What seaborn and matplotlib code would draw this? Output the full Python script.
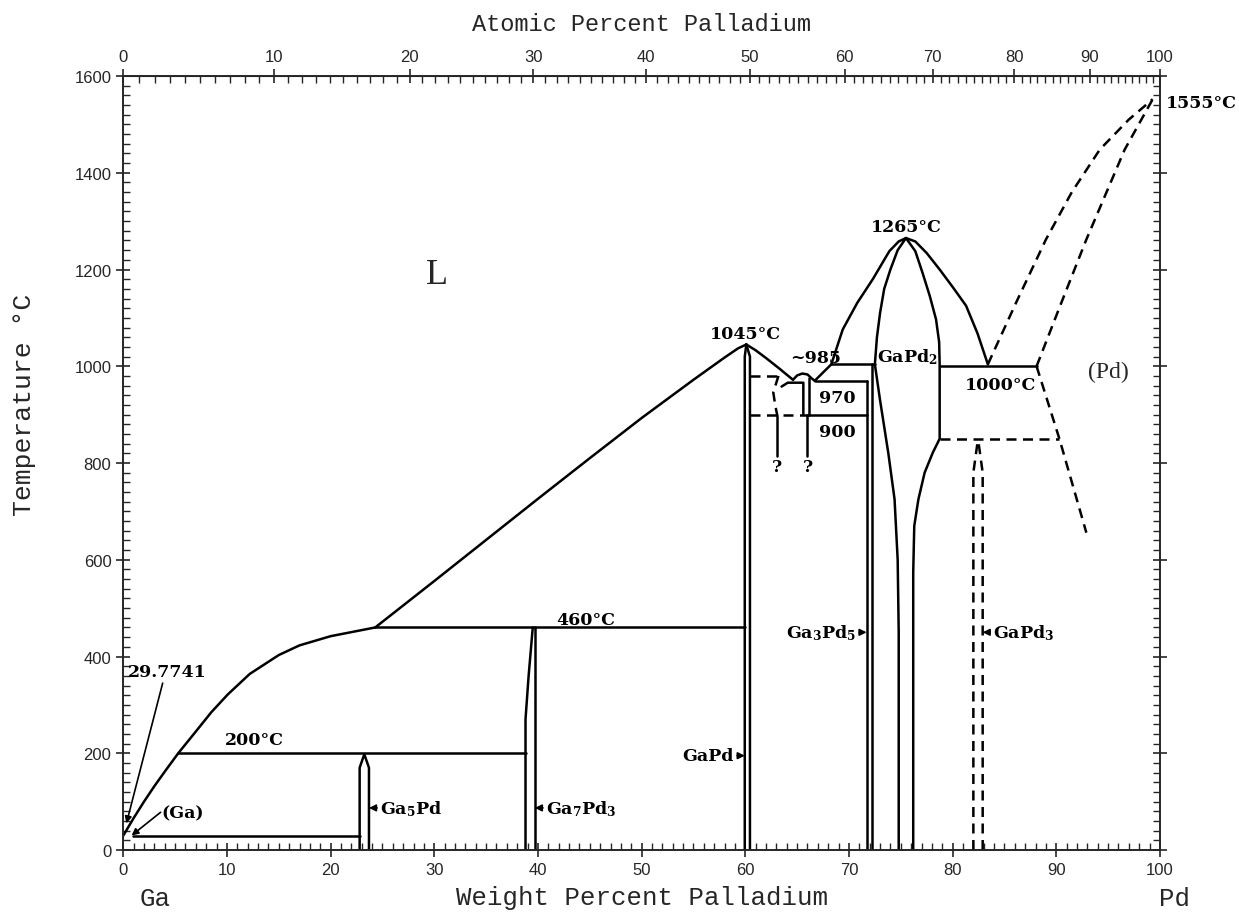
import numpy as np
import pandas as pd
import matplotlib
matplotlib.use("Agg")
import matplotlib.pyplot as plt
from matplotlib.ticker import MultipleLocator, FixedLocator
import seaborn as sns

# atomic masses for the top (atomic %) scale
GA_MASS = 69.723
PD_MASS = 106.42

# ---- phase boundaries: (wt% Pd, temperature C) ----
liq_low = [(0, 29.8), (1.0, 66), (2.0, 100), (3.0, 132), (4.0, 162), (5.3, 200), (7.0, 245),
           (8.5, 285), (10.1, 322), (12.2, 364), (15.0, 403), (17.0, 423), (20.0, 442), (24.3, 460)]
liq_gapd_left = [(24.3, 460), (30, 556), (35, 641), (40, 726), (45, 810), (50, 893), (55, 972),
                 (58, 1018), (59.3, 1037), (60.1, 1045)]
liq_gapd_right = [(60.1, 1045), (61, 1033), (62, 1017), (63.3, 995), (64.6, 972)]
dome_985 = [(64.6, 972), (65.0, 981), (65.5, 985), (66.0, 983), (66.4, 975), (66.7, 970)]
liq_gapd2_left = [(66.7, 970), (68.3, 1004), (69.4, 1076), (70.8, 1131), (72.3, 1180),
                  (73.9, 1238), (74.8, 1258), (75.5, 1265)]
liq_gapd2_right = [(75.5, 1265), (76.4, 1258), (77.5, 1234), (78.75, 1200), (80.0, 1164),
                   (81.3, 1125), (82.4, 1068), (83.4, 1004)]
gapd2_left = [(75.5, 1265), (74.7, 1240), (74.0, 1200), (73.4, 1160), (73.0, 1110), (72.7, 1060),
              (72.5, 1004), (73.0, 930), (73.8, 820), (74.4, 725), (74.7, 600), (74.8, 450), (74.8, 0)]
gapd2_right = [(75.5, 1265), (76.4, 1238), (77.1, 1193), (77.8, 1145), (78.4, 1097), (78.7, 1050),
               (78.75, 1004), (78.75, 850), (78.1, 822), (77.3, 780), (76.7, 725), (76.3, 670),
               (76.2, 574), (76.2, 0)]

iso_30 = [(0.9, 29.8), (22.8, 29.8)]
iso_200 = [(5.3, 200), (38.8, 200)]
iso_460 = [(24.3, 460), (59.95, 460)]
iso_1004 = [(68.3, 1004), (72.5, 1004)]
iso_970 = [(66.7, 970), (71.7, 970)]
iso_900 = [(66.1, 900), (71.7, 900)]
iso_1000 = [(78.75, 1000), (88.1, 1000)]

ga5pd = [(22.8, 0), (22.8, 170), (23.25, 198), (23.7, 170), (23.7, 0)]
ga7pd3_left = [(38.8, 0), (38.8, 270), (39.1, 360), (39.5, 460)]
ga7pd3_right = [(39.7, 0), (39.7, 460)]
gapd_left = [(59.95, 0), (59.95, 1020), (60.1, 1045)]
gapd_right = [(60.45, 0), (60.45, 1020), (60.1, 1045)]
ga3pd5_left = [(71.7, 0), (71.7, 970)]
ga3pd5_right = [(72.2, 0), (72.2, 1004)]
small_left = [(63.5, 958), (64.1, 966), (65.6, 966), (65.6, 900)]
small_right = [(66.1, 900), (66.1, 975)]
query_1 = [(63.1, 897), (63.1, 815)]
query_2 = [(66.0, 900), (66.0, 815)]

# dashed (uncertain) boundaries
iso_900_dash = [(60.45, 900), (66.1, 900)]
iso_980_dash = [(60.45, 980), (63.2, 980)]
curve_dash = [(63.2, 980), (62.7, 946), (62.9, 918), (63.1, 897)]
pd_liquidus = [(83.4, 1004), (86.2, 1135), (89.0, 1262), (91.5, 1360), (94.2, 1448),
               (97.0, 1510), (99.3, 1552)]
pd_solidus = [(88.1, 1000), (90.5, 1132), (92.9, 1262), (96.6, 1448), (99.3, 1552)]
pd_solvus = [(88.1, 1000), (90.3, 850), (92.9, 656)]
iso_850_dash = [(78.75, 850), (90.3, 850)]
gapd3_left = [(82.0, 0), (82.0, 780), (82.45, 850)]
gapd3_right = [(82.9, 0), (82.9, 780), (82.45, 850)]

solid_segments = [liq_low, liq_gapd_left, liq_gapd_right, dome_985, liq_gapd2_left,
                  liq_gapd2_right, gapd2_left, gapd2_right, iso_30, iso_200, iso_460,
                  iso_1004, iso_970, iso_900, iso_1000, ga5pd, ga7pd3_left, ga7pd3_right,
                  gapd_left, gapd_right, ga3pd5_left, ga3pd5_right, small_left, small_right,
                  query_1, query_2]
dashed_segments = [iso_900_dash, iso_980_dash, curve_dash, pd_liquidus, pd_solidus,
                   pd_solvus, iso_850_dash, gapd3_left, gapd3_right]


def to_frame(segments):
    rows = []
    for i, seg in enumerate(segments):
        for w, t in seg:
            rows.append({"wt": w, "T": t, "seg": i})
    return pd.DataFrame(rows)


def wt_to_at(w):
    w = np.asarray(w, dtype=float)
    with np.errstate(divide="ignore", invalid="ignore"):
        return (w / PD_MASS) / (w / PD_MASS + (100 - w) / GA_MASS) * 100


def at_to_wt(a):
    a = np.asarray(a, dtype=float)
    with np.errstate(divide="ignore", invalid="ignore"):
        return a * PD_MASS / (a * PD_MASS + (100 - a) * GA_MASS) * 100


sns.set_style("ticks")
plt.rcParams["mathtext.default"] = "regular"

fig = plt.figure(figsize=(12.39, 9.2), dpi=100)
ax = fig.add_axes([0.0995, 0.075, 0.8367, 0.8413])

sns.lineplot(data=to_frame(solid_segments), x="wt", y="T", units="seg", estimator=None,
             sort=False, color="black", linewidth=1.8, ax=ax)
sns.lineplot(data=to_frame(dashed_segments), x="wt", y="T", units="seg", estimator=None,
             sort=False, color="black", linewidth=1.8, linestyle=(0, (4, 2.6)), ax=ax)

ax.set_xlim(0, 100)
ax.set_ylim(0, 1600)
for s in ax.spines.values():
    s.set_linewidth(1.4)
    s.set_visible(True)

ax.xaxis.set_major_locator(MultipleLocator(10))
ax.xaxis.set_minor_locator(MultipleLocator(1))
ax.yaxis.set_major_locator(MultipleLocator(200))
ax.yaxis.set_minor_locator(MultipleLocator(20))
ax.tick_params(which="major", direction="inout", length=10, width=1.2,
               right=True, top=False, labelsize=12)
ax.tick_params(which="minor", direction="in", length=5, width=1.0, right=True, top=False)
for lab in ax.get_xticklabels() + ax.get_yticklabels():
    lab.set_family("Liberation Sans")

mono = "Liberation Mono"
ax.set_xlabel("Weight Percent Palladium", family=mono, fontsize=18.5, labelpad=6)
ax.set_ylabel("Temperature °C", family=mono, fontsize=19)
ax.yaxis.set_label_coords(-0.084, 0.576)

top = ax.secondary_xaxis("top", functions=(wt_to_at, at_to_wt))
top.xaxis.set_major_locator(FixedLocator(np.arange(0, 101, 10)))
top.xaxis.set_minor_locator(FixedLocator(np.arange(0, 101, 1)))
top.tick_params(which="major", direction="inout", length=10, width=1.2, labelsize=12)
top.tick_params(which="minor", direction="in", length=5, width=1.0)
for lab in top.get_xticklabels():
    lab.set_family("Liberation Sans")
top.set_xlabel("Atomic Percent Palladium", family=mono, fontsize=17, labelpad=14)

ax.text(3.1, -0.062, "Ga", transform=ax.get_xaxis_transform(), family=mono,
        fontsize=18.5, ha="center", va="center")
ax.text(101.4, -0.062, "Pd", transform=ax.get_xaxis_transform(), family=mono,
        fontsize=18.5, ha="center", va="center", clip_on=False)

# ---- labels inside the diagram ----
lab_kw = dict(family="DejaVu Serif", fontweight="bold", fontsize=12.5, color="black")
ax.text(30.3, 1190, "L", family="Liberation Serif", fontsize=26, ha="center", va="center")
ax.text(95.0, 990, "(Pd)", family="Liberation Serif", fontsize=17, ha="center", va="center")
ax.text(60.0, 1050, "1045°C", ha="center", va="bottom", **lab_kw)
ax.text(66.8, 1018, "~985", ha="center", va="center", **lab_kw)
ax.text(68.9, 936, "970", ha="center", va="center", **lab_kw)
ax.text(68.9, 866, "900", ha="center", va="center", **lab_kw)
ax.text(63.1, 792, "?", ha="center", va="center", **lab_kw)
ax.text(66.0, 792, "?", ha="center", va="center", **lab_kw)
ax.text(75.5, 1272, "1265°C", ha="center", va="bottom", **lab_kw)
ax.text(75.6, 1020, "GaPd$_2$", ha="center", va="center", **lab_kw)
ax.text(84.6, 962, "1000°C", ha="center", va="center", **lab_kw)
ax.text(100.6, 1545, "1555°C", ha="left", va="center", clip_on=False, **lab_kw)
ax.text(44.6, 476, "460°C", ha="center", va="center", **lab_kw)
ax.text(12.6, 229, "200°C", ha="center", va="center", **lab_kw)
ax.text(0.4, 368, "29.7741", ha="left", va="center", **lab_kw)
ax.text(3.7, 76, "(Ga)", ha="left", va="center", **lab_kw)

arr = dict(arrowstyle="-|>", color="black", lw=1.2, mutation_scale=10, shrinkA=0, shrinkB=0)
ax.annotate("", xy=(0.3, 55), xytext=(3.8, 345), arrowprops=arr)
ax.annotate("", xy=(0.8, 30), xytext=(3.6, 78), arrowprops=arr)
ax.annotate("Ga$_5$Pd", xy=(23.7, 87), xytext=(24.8, 87), ha="left", va="center",
            arrowprops=arr, **lab_kw)
ax.annotate("Ga$_7$Pd$_3$", xy=(39.7, 87), xytext=(40.8, 87), ha="left", va="center",
            arrowprops=arr, **lab_kw)
ax.annotate("GaPd", xy=(59.95, 195), xytext=(58.9, 195), ha="right", va="center",
            arrowprops=arr, **lab_kw)
ax.annotate("Ga$_3$Pd$_5$", xy=(71.7, 450), xytext=(70.7, 450), ha="right", va="center",
            arrowprops=arr, **lab_kw)
ax.annotate("GaPd$_3$", xy=(82.9, 450), xytext=(83.9, 450), ha="left", va="center",
            arrowprops=arr, **lab_kw)

fig.savefig("out.png", dpi=100)
